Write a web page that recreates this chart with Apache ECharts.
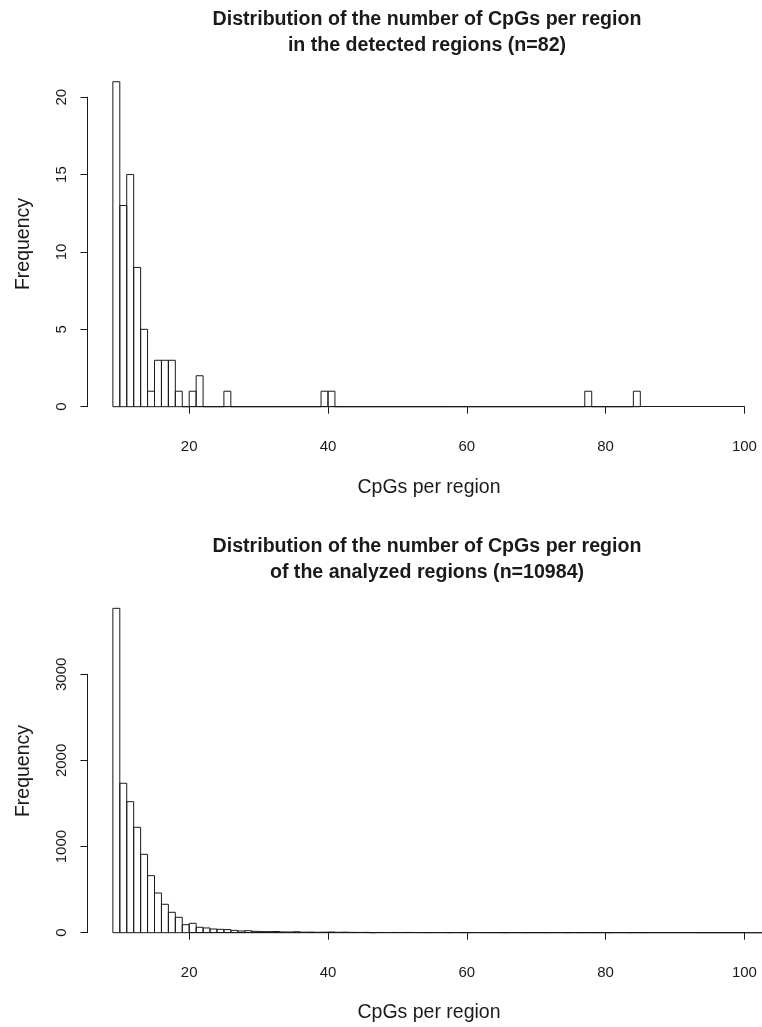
<!DOCTYPE html>
<html>
<head>
<meta charset="utf-8">
<script src="https://cdn.jsdelivr.net/npm/echarts@6/dist/echarts.min.js"></script>
<style>
  html, body { margin: 0; padding: 0; background: #fff; }
  #chart { width: 762px; height: 1027px; }
</style>
</head>
<body>
<div id="chart"></div>
<script>
  // 直方图：每个 bin 宽度 1，从 9 开始
  var binStart = 9;
  var binWidth = 1;

  // 检测到的区域 (n=82)，bin 9..84
  var detectedCounts = [
    21, 13, 15, 9, 5, 1, 3, 3, 3, 1,   // 9-18
    0, 1, 2, 0, 0, 0, 1, 0, 0, 0,      // 19-28
    0, 0, 0, 0, 0, 0, 0, 0, 0, 0,      // 29-38
    1, 1, 0, 0, 0, 0, 0, 0, 0, 0,      // 39-48
    0, 0, 0, 0, 0, 0, 0, 0, 0, 0,      // 49-58
    0, 0, 0, 0, 0, 0, 0, 0, 0, 0,      // 59-68
    0, 0, 0, 0, 0, 0, 0, 0, 1, 0,      // 69-78
    0, 0, 0, 0, 0, 1                   // 79-84
  ];

  // 分析的区域 (n=10984)，bin 9..102
  var analyzedCounts = [
    3766, 1735, 1521, 1224, 910, 662, 461, 330, 237, 179,  // 9-18
    93, 109, 63, 55, 43, 39, 36, 27, 20, 23,               // 19-28
    16, 13, 12, 14, 9, 8, 11, 6, 7, 5,                     // 29-38
    6, 8, 5, 6, 4, 3, 4, 0, 3, 2,                          // 39-48
    3, 2, 3, 2, 2, 1, 2, 2, 1, 2,                          // 49-58
    1, 1, 2, 1, 1, 1, 0, 1, 1, 0,                          // 59-68
    1, 1, 0, 1, 1, 0, 1, 0, 1, 0,                          // 69-78
    1, 0, 1, 1, 0, 1, 0, 1, 1, 1,                          // 79-88
    1, 1, 1, 1, 0, 0, 0, 0, 0, 0,                          // 89-98
    0, 0, 0, 0                                             // 99-102
  ];

  var xTicks = [20, 40, 60, 80, 100];
  var detectedTicks = [0, 5, 10, 15, 20];
  var analyzedTicks = [0, 1000, 2000, 3000];

  var titles = [
    'Distribution of the number of CpGs per region\nin the detected regions (n=82)',
    'Distribution of the number of CpGs per region\nof the analyzed regions (n=10984)'
  ];

  var FONT = '"Liberation Sans", Arial, Helvetica, sans-serif';
  var INK = '#1a1a1a';

  function toBins(counts) {
    return counts.map(function (c, i) {
      var lo = binStart + i * binWidth;
      return [lo, lo + binWidth, c];
    });
  }

  // 画直方图的矩形
  function renderBin(params, api) {
    var p0 = api.coord([api.value(0), 0]);
    var p1 = api.coord([api.value(1), api.value(2)]);
    return {
      type: 'rect',
      shape: { x: p0[0], y: p1[1], width: p1[0] - p0[0], height: p0[1] - p1[1] },
      style: { fill: 'none', stroke: INK, lineWidth: 1 }
    };
  }

  function xAxisOf(gridIndex) {
    return {
      type: 'value', gridIndex: gridIndex,
      min: xTicks[0], max: xTicks[xTicks.length - 1], interval: 20,
      offset: 13,
      splitLine: { show: false },
      axisLine: { show: true, lineStyle: { color: INK, width: 1 } },
      axisTick: { show: true, length: 7, lineStyle: { color: INK } },
      axisLabel: { show: true, margin: 20, fontSize: 15, color: INK, fontFamily: FONT }
    };
  }

  function yAxisOf(gridIndex, ticks) {
    return {
      type: 'value', gridIndex: gridIndex,
      min: ticks[0], max: ticks[ticks.length - 1], interval: ticks[1] - ticks[0],
      offset: 101.8,
      splitLine: { show: false },
      axisLine: { show: true, lineStyle: { color: INK, width: 1 } },
      axisTick: { show: true, length: 7, lineStyle: { color: INK } },
      axisLabel: {
        show: true, rotate: 90, margin: 18, fontSize: 15, color: INK, fontFamily: FONT,
        formatter: function (v) { return String(v); }
      }
    };
  }

  function axisTitle(text, x, y, rotate) {
    return {
      type: 'text', x: x, y: y, rotation: rotate ? Math.PI / 2 : 0,
      style: {
        text: text, fill: INK, font: '19.5px ' + FONT,
        textAlign: 'center', textVerticalAlign: 'middle'
      }
    };
  }

  var chart = echarts.init(document.getElementById('chart'), null, { renderer: 'canvas' });

  var titleStyle = { fontFamily: FONT, fontSize: 19.6, fontWeight: 'bold', color: INK, lineHeight: 26 };

  var option = {
    animation: false,
    backgroundColor: '#fff',
    title: [
      { text: titles[0], left: 422, top: 2, textAlign: 'center', textStyle: titleStyle },
      { text: titles[1], left: 422, top: 529, textAlign: 'center', textStyle: titleStyle }
    ],
    grid: [
      { left: 189.2, right: 17.6, top: 97.2, bottom: 620.3 },
      { left: 189.2, right: 17.6, top: 674.3, bottom: 94.3 }
    ],
    xAxis: [xAxisOf(0), xAxisOf(1)],
    yAxis: [yAxisOf(0, detectedTicks), yAxisOf(1, analyzedTicks)],
    series: [
      {
        type: 'custom', xAxisIndex: 0, yAxisIndex: 0, clip: false,
        renderItem: renderBin, data: toBins(detectedCounts)
      },
      {
        type: 'custom', xAxisIndex: 1, yAxisIndex: 1, clip: false,
        renderItem: renderBin, data: toBins(analyzedCounts)
      }
    ],
    graphic: [
      axisTitle('Frequency', 24, 244, true),
      axisTitle('CpGs per region', 429, 488, false),
      axisTitle('Frequency', 24, 771, true),
      axisTitle('CpGs per region', 429, 1013, false)
    ]
  };

  chart.setOption(option);
</script>
</body>
</html>
